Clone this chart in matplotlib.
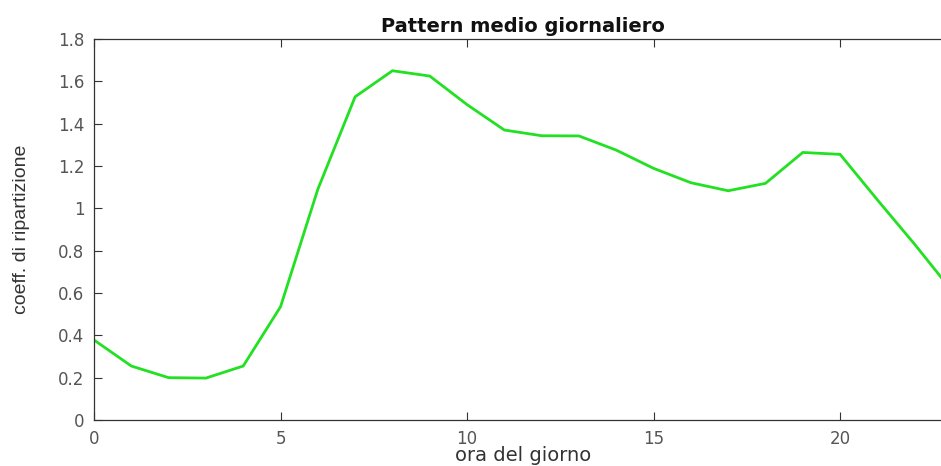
import matplotlib
matplotlib.use("Agg")
import matplotlib.pyplot as plt
from matplotlib.ticker import FuncFormatter

hours = list(range(24))
coeff = [0.378, 0.255, 0.200, 0.198, 0.255, 0.535, 1.090, 1.527, 1.650, 1.625,
         1.490, 1.370, 1.343, 1.342, 1.275, 1.189, 1.121, 1.083, 1.118, 1.264,
         1.255, 1.040, 0.830, 0.610]
x_ticks = [0, 5, 10, 15, 20]
y_ticks = [0, 0.2, 0.4, 0.6, 0.8, 1.0, 1.2, 1.4, 1.6, 1.8]

title = "Pattern medio giornaliero"
xlabel = "ora del giorno"
ylabel = "coeff. di ripartizione"

plt.rcParams['font.family'] = ['DejaVu Sans']

W, H = 941, 466
fig = plt.figure(figsize=(W / 100, H / 100), dpi=100)
left, right, bottom, top = 94, 952, 420, 39
ax = fig.add_axes([left / W, 1 - bottom / H, (right - left) / W, (bottom - top) / H])

ax.plot(hours, coeff, color='#22e022', lw=2.0, solid_joinstyle='miter')

ax.set_xlim(0, 23)
ax.set_ylim(0, 1.8)
ax.set_xticks(x_ticks)
ax.set_yticks(y_ticks)
ax.yaxis.set_major_formatter(FuncFormatter(lambda v, p: f"{v:g}"))
ax.tick_params(direction='in', length=6, width=0.8, color='#333333',
               labelsize=12, labelcolor='#555555', top=True, right=True, pad=7)
for s in ax.spines.values():
    s.set_color('#333333')
    s.set_linewidth(0.9)

ax.set_title(title, fontsize=14, fontweight='bold', pad=5, color='#111111')
ax.set_xlabel(xlabel, fontsize=14, color='#333333', labelpad=-1)
ax.set_ylabel(ylabel, fontsize=14, color='#333333', labelpad=20,
              family=['Liberation Sans'])

fig.savefig("out.png", dpi=100)
